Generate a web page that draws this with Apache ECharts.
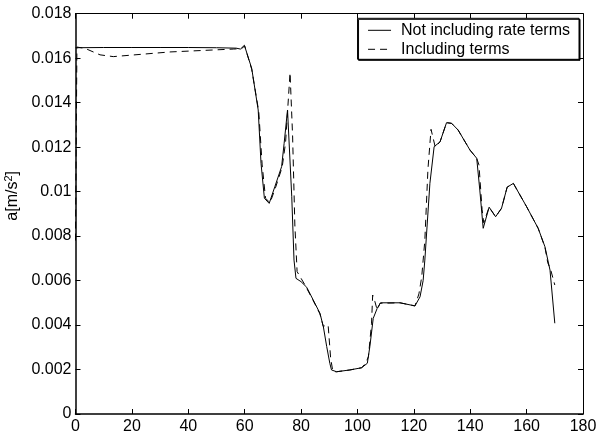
<!DOCTYPE html>
<html>
<head>
<meta charset="utf-8">
<script src="https://cdn.jsdelivr.net/npm/echarts@6/dist/echarts.min.js"></script>
<style>
  html, body { margin: 0; padding: 0; background: #fff; }
  #chart { width: 596px; height: 435px; }
</style>
</head>
<body>
<div id="chart"></div>
<script>
// values
const seriesNames = ['Not including rate terms', 'Including terms']
const xTicks = [0, 20, 40, 60, 80, 100, 120, 140, 160, 180]
const yTicks = [0, 0.002, 0.004, 0.006, 0.008, 0.01, 0.012, 0.014, 0.016, 0.018]

const notRateX = [0, 10, 20, 30, 40, 50, 57, 58.5, 59.9, 62.5, 64.8, 65.8, 67.0, 68.7, 70.7, 73.1, 74.0, 75.2,
  76.7, 77.5, 78.2, 80.0, 82.0, 84.3, 86.7, 87.9, 89.1, 90.2, 90.8, 92.6, 97.3, 101.5, 103.5, 104.4, 105.6,
  107.0, 108.2, 115.1, 120.4, 122.2, 123.3, 123.9, 125.7, 127.2, 129.3, 131.6, 133.4, 135.7, 139.9, 142.3,
  143.4, 144.6, 146.7, 149.0, 151.1, 153.1, 155.3, 160.0, 164.1, 166.5, 168.3, 170.0]
const notRateY = [0.01647, 0.01648, 0.01648, 0.01648, 0.01648, 0.01647, 0.01645, 0.01641, 0.01658, 0.01554,
  0.01367, 0.01127, 0.0097, 0.00947, 0.01022, 0.01112, 0.01217, 0.01367, 0.00977, 0.00692, 0.0061, 0.00595,
  0.0057, 0.00513, 0.00453, 0.00393, 0.00303, 0.00228, 0.00198, 0.0019, 0.00198, 0.00208, 0.00228, 0.00303,
  0.0043, 0.00475, 0.005, 0.005, 0.00486, 0.00527, 0.006, 0.00692, 0.01037, 0.01202, 0.01224, 0.0131, 0.01307,
  0.01277, 0.01187, 0.0115, 0.01007, 0.00835, 0.0093, 0.00887, 0.00925, 0.0102, 0.01037, 0.00932, 0.00835,
  0.00752, 0.00647, 0.00408]

const inclX = [0, 0.5, 3.4, 8.7, 13.4, 33.5, 56.0, 58.9, 60.0, 62.5, 65.0, 66.2, 67.4, 69.0, 71.0, 73.3, 74.5,
  76.1, 77.0, 77.8, 78.6, 81.4, 84.3, 86.7, 87.9, 88.8, 89.6, 90.5, 91.3, 92.6, 97.3, 101.5, 103.0, 103.9,
  105.0, 105.4, 106.2, 107.0, 108.0, 115.1, 120.4, 121.8, 122.8, 123.9, 125.0, 126.1, 127.6, 129.3, 131.6,
  133.4, 135.7, 139.9, 142.3, 143.1, 144.2, 144.8, 146.7, 149.0, 151.1, 153.1, 155.3, 160.0, 164.1, 166.5,
  167.5, 168.5, 170.0]
const inclY = [0.0078, 0.0165, 0.01644, 0.01615, 0.01607, 0.01628, 0.01641, 0.01643, 0.01655, 0.0155, 0.0136,
  0.0112, 0.0097, 0.0095, 0.0102, 0.0111, 0.0122, 0.01535, 0.0125, 0.0085, 0.0064, 0.0058, 0.0051, 0.0045,
  0.00393, 0.004, 0.004, 0.0025, 0.0019, 0.0019, 0.00198, 0.00208, 0.0023, 0.00258, 0.00408, 0.00535, 0.00505,
  0.00468, 0.00498, 0.005, 0.00486, 0.0054, 0.00617, 0.0078, 0.011, 0.0128, 0.012, 0.01224, 0.0131, 0.01307,
  0.01277, 0.01187, 0.0115, 0.0112, 0.0092, 0.0086, 0.0093, 0.00887, 0.00925, 0.0102, 0.01037, 0.00932,
  0.00835, 0.0075, 0.0068, 0.0065, 0.0058]

const font = '"Liberation Sans", Arial, Helvetica, sans-serif'
const pairs = (xs, ys) => xs.map((x, i) => [x, ys[i]])
const fmt = (v) => String(+v.toFixed(3))

const chart = echarts.init(document.getElementById('chart'))

const baseX = {
  type: 'value',
  min: xTicks[0],
  max: xTicks[xTicks.length - 1],
  interval: 20,
  splitLine: { show: false },
  axisLine: { onZero: false, lineStyle: { color: '#000', width: 1 } },
  axisTick: { inside: true, length: 5, lineStyle: { color: '#000' } }
}
const baseY = {
  type: 'value',
  min: yTicks[0],
  max: yTicks[yTicks.length - 1],
  interval: 0.002,
  splitLine: { show: false },
  axisLine: { onZero: false, lineStyle: { color: '#000', width: 1 } },
  axisTick: { inside: true, length: 5, lineStyle: { color: '#000' } }
}

chart.setOption({
  animation: false,
  backgroundColor: '#fff',
  grid: { left: 75.5, right: 13, top: 13.7, bottom: 21, outerBoundsMode: 'none', containLabel: false },
  xAxis: [
    Object.assign({}, baseX, {
      position: 'bottom',
      axisLine: { onZero: false, lineStyle: { color: '#000', width: 1.5 } },
      axisLabel: { color: '#000', fontFamily: font, fontSize: 16, margin: 5, formatter: fmt }
    }),
    Object.assign({}, baseX, { position: 'top', axisLabel: { show: false } })
  ],
  yAxis: [
    Object.assign({}, baseY, {
      position: 'left',
      axisLine: { onZero: false, lineStyle: { color: '#000', width: 1.5 } },
      axisLabel: { color: '#000', fontFamily: font, fontSize: 16, margin: 4, formatter: fmt },
      name: 'a[m/s{sup|2}]',
      nameLocation: 'middle',
      nameRotate: 90,
      nameGap: 42,
      nameTextStyle: {
        color: '#000', fontFamily: font, fontSize: 16, padding: [0, 0, 0, 36],
        rich: { sup: { fontSize: 11, verticalAlign: 'top', padding: [0, 0, 8, 0], color: '#000', fontFamily: font } }
      }
    }),
    Object.assign({}, baseY, { position: 'right', axisLabel: { show: false } })
  ],
  legend: {
    right: 17,
    top: 18.3,
    orient: 'vertical',
    backgroundColor: '#fff',
    borderColor: '#000',
    borderWidth: 1,
    borderRadius: 0,
    shadowColor: '#000',
    shadowOffsetX: 1,
    shadowOffsetY: 1,
    shadowBlur: 0,
    padding: [4, 9, 2, 10],
    itemGap: 3,
    itemWidth: 23,
    itemHeight: 14,
    itemStyle: { opacity: 0 },
    lineStyle: { width: 1 },
    textStyle: { color: '#000', fontFamily: font, fontSize: 16, padding: [0, 0, 0, 5] },
    data: seriesNames
  },
  series: [
    {
      name: seriesNames[0],
      type: 'line',
      symbol: 'none',
      data: pairs(notRateX, notRateY),
      lineStyle: { color: '#000', width: 1 },
      itemStyle: { color: '#000' }
    },
    {
      name: seriesNames[1],
      type: 'line',
      symbol: 'none',
      data: pairs(inclX, inclY),
      lineStyle: { color: '#000', width: 1, type: [7, 5] },
      itemStyle: { color: '#000' }
    }
  ]
})
</script>
</body>
</html>
